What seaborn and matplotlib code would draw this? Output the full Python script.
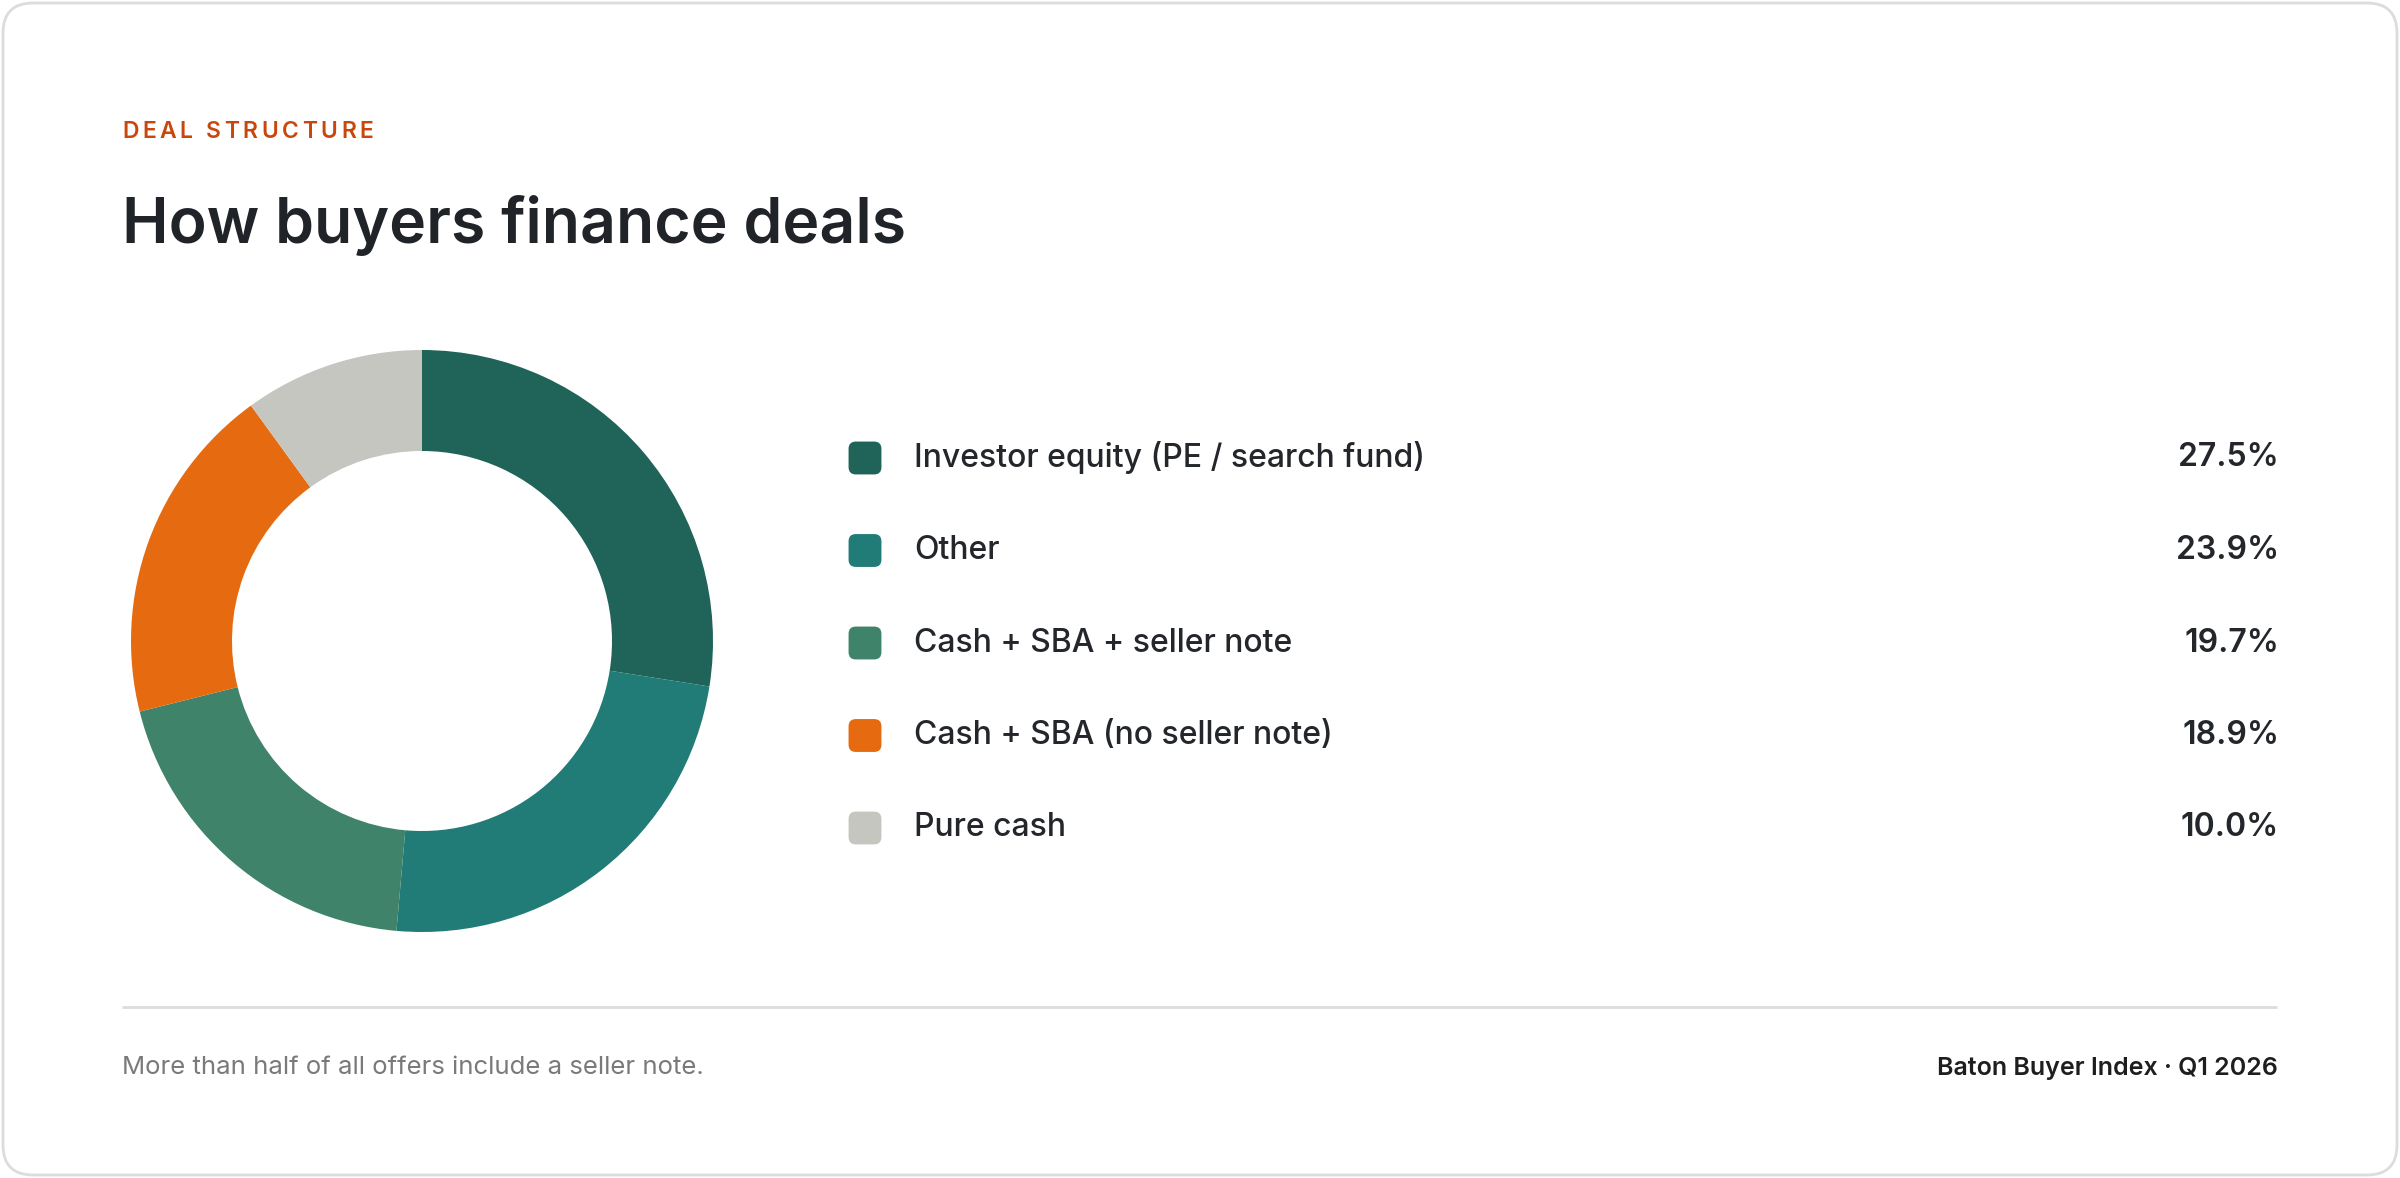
import matplotlib
matplotlib.use("Agg")
import matplotlib.pyplot as plt
import matplotlib.patches as mpatches
import seaborn as sb
import pandas as pd

# data
categories = ["Investor equity (PE / search fund)", "Other", "Cash + SBA + seller note",
              "Cash + SBA (no seller note)", "Pure cash"]
shares = [27.5, 23.9, 19.7, 18.9, 10.0]
colors = ["#1F6359", "#217B76", "#3F836A", "#E56A10", "#C6C6C1"]

eyebrow = "DEAL STRUCTURE"
title = "How buyers finance deals"
note = "More than half of all offers include a seller note."
source = "Baton Buyer Index · Q1 2026"

sb.set_theme(style="white")
plt.rcParams["font.family"] = ["Inter", "DejaVu Sans"]

W, H = 2400, 1178
fig = plt.figure(figsize=(W / 100, H / 100), dpi=100)
fig.patch.set_facecolor("white")

# overlay axes in pixel coordinates
ax = fig.add_axes([0, 0, 1, 1])
ax.set_xlim(0, W)
ax.set_ylim(H, 0)
ax.axis("off")

card = mpatches.FancyBboxPatch((3, 3), W - 6, H - 6, boxstyle="round,pad=0,rounding_size=30",
                               fc="white", ec="#DCDCDC", lw=2)
ax.add_patch(card)
renderer = fig.canvas.get_renderer()


def tracked_text(x, y, s, track, **kw):
    # draw text char by char with extra letter spacing
    def width(sub):
        if not sub:
            return 0
        t = ax.text(0, 0, sub + "|", **kw)
        t2 = ax.text(0, 0, "|", **kw)
        w = t.get_window_extent(renderer).width - t2.get_window_extent(renderer).width
        t.remove()
        t2.remove()
        return w
    for i, ch in enumerate(s):
        ax.text(x + width(s[:i]) + i * track, y, ch, ha="left", **kw)


tracked_text(122, 131.5, eyebrow, 3.6, fontsize=16.5, color="#C9470C",
             fontweight="semibold", va="center")
ax.text(122, 225, title, fontsize=45, color="#202428", fontweight="semibold",
        va="center", ha="left")

# legend rows
df = pd.DataFrame({"cat": categories, "share": shares})
df["row"] = range(len(df))
df["y"] = 458 + df["row"] * 92.5
df["x"] = 865
sq = mpatches.FancyBboxPatch((-0.5, -0.5), 1, 1, boxstyle="round,pad=0,rounding_size=0.22").get_path()
sb.scatterplot(data=df, x="x", y="y", hue="cat", palette=colors, marker=sq, s=560,
               linewidth=0, legend=False, ax=ax)
for _, r in df.iterrows():
    ax.text(914, r["y"], r["cat"], fontsize=23, color="#23272B", fontweight="medium",
            va="center", ha="left")
    ax.text(2279, r["y"], f"{r['share']:.1f}%", fontsize=23, color="#23272B",
            fontweight="semibold", va="center", ha="right")

ax.plot([122, 2277], [1007, 1007], color="#DDDDDD", lw=2, solid_capstyle="butt")
ax.text(122, 1068, note, fontsize=18.5, color="#7A7A7A", va="center", ha="left")
ax.text(2278, 1068, source, fontsize=18, color="#1E1E1E", fontweight="semibold",
        va="center", ha="right")

# donut
cx, cy, R, r_in = 422, 641, 291, 190
axp = fig.add_axes([(cx - 300) / W, (H - cy - 300) / H, 600 / W, 600 / H])
axp.pie(shares, colors=colors, radius=R, startangle=90, counterclock=False,
        wedgeprops=dict(width=R - r_in, linewidth=0, antialiased=True))
axp.set_xlim(-300, 300)
axp.set_ylim(-300, 300)
axp.set_aspect("equal")
axp.axis("off")

fig.savefig("out.png", dpi=100, facecolor="white")
